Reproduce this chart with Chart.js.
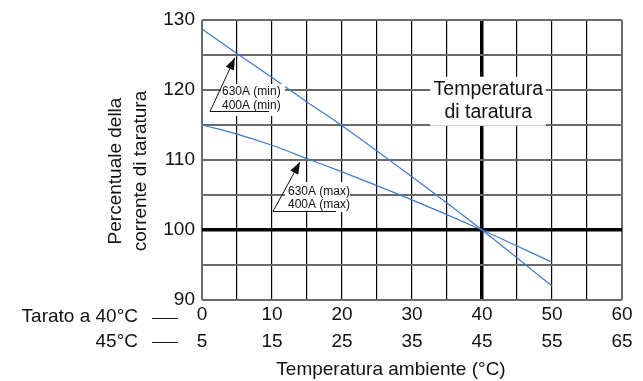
<!DOCTYPE html>
<html>
<head>
<meta charset="utf-8">
<script src="https://cdn.jsdelivr.net/npm/chart.js@4"></script>
<style>
  html, body { margin: 0; padding: 0; background: #fff; }
  #wrap { width: 643px; height: 381px; }
</style>
</head>
<body>
<div id="wrap"><canvas id="chart" width="643" height="381"></canvas></div>
<script>
'use strict';

// ambient temperature (rated at 40°C scale)
let tempsMin = [0, 5, 10, 15, 20, 30, 40, 50];
let valuesMin = [128.7, 125.2, 121.8, 118.3, 114.9, 107.6, 100, 92];
let tempsMax = [0, 5, 10, 15, 20, 30, 40, 50];
let valuesMax = [115, 113.7, 112.1, 110.2, 108.3, 104.3, 100, 95.4];

// tick labels
let xTopLabels = ['0', '10', '20', '30', '40', '50', '60'];
let xBottomLabels = ['5', '15', '25', '35', '45', '55', '65'];
let yLabels = ['90', '100', '110', '120', '130'];

let FONT = '"Liberation Sans", Arial, Helvetica, sans-serif';
let LINE_BLUE = '#3f7cc9';
let GRID_GRAY = '#6a6a6a';

function toPoints(xs, ys) {
  let pts = [];
  for (let i = 0; i < xs.length; i++) {
    pts.push({ x: xs[i], y: ys[i] });
  }
  return pts;
}

function arrow(ctx, x0, y0, x1, y1) {
  ctx.beginPath();
  ctx.moveTo(x0, y0);
  ctx.lineTo(x1, y1);
  ctx.stroke();
  let a = Math.atan2(y1 - y0, x1 - x0);
  let len = 12, w = 4.5;
  ctx.beginPath();
  ctx.moveTo(x1, y1);
  ctx.lineTo(x1 - len * Math.cos(a) + w * Math.sin(a), y1 - len * Math.sin(a) - w * Math.cos(a));
  ctx.lineTo(x1 - len * Math.cos(a) - w * Math.sin(a), y1 - len * Math.sin(a) + w * Math.cos(a));
  ctx.closePath();
  ctx.fill();
}

let notesPlugin = {
  id: 'notes',
  afterDatasetsDraw(chart) {
    let ctx = chart.ctx;
    let x = chart.scales.x, y = chart.scales.y;
    ctx.save();

    // white boxes behind labels
    ctx.fillStyle = '#fff';
    ctx.fillRect(x.getPixelForValue(32.6), y.getPixelForValue(121.9),
      x.getPixelForValue(49.1) - x.getPixelForValue(32.6), y.getPixelForValue(114.9) - y.getPixelForValue(121.9));
    ctx.fillRect(221, 84, 64, 32);
    ctx.fillRect(285, 182, 65, 30);

    ctx.fillStyle = '#111';
    ctx.textAlign = 'center';
    ctx.textBaseline = 'middle';
    ctx.font = '19.5px ' + FONT;
    let cx = x.getPixelForValue(40.9);
    ctx.fillText('Temperatura', cx, y.getPixelForValue(120));
    ctx.fillText('di taratura', cx, y.getPixelForValue(116.7));

    // curve callouts
    ctx.strokeStyle = '#111';
    ctx.lineWidth = 1;
    ctx.font = '12px ' + FONT;
    ctx.textAlign = 'left';
    ctx.fillText('630A (min)', 222, 92);
    ctx.fillText('400A (min)', 222, 106);
    ctx.beginPath();
    ctx.moveTo(210, 111.5);
    ctx.lineTo(269, 111.5);
    ctx.stroke();
    arrow(ctx, 210, 111.5, x.getPixelForValue(4.7), y.getPixelForValue(124.6));

    ctx.fillText('630A (max)', 288, 192);
    ctx.fillText('400A (max)', 288, 205);
    ctx.beginPath();
    ctx.moveTo(273, 211.5);
    ctx.lineTo(336, 211.5);
    ctx.stroke();
    arrow(ctx, 273, 211.5, x.getPixelForValue(14), y.getPixelForValue(109.7));

    ctx.restore();
  },
  afterDraw(chart) {
    let ctx = chart.ctx;
    ctx.save();
    ctx.fillStyle = '#111';
    ctx.font = '19px ' + FONT;
    ctx.textBaseline = 'middle';

    // y title
    ctx.textAlign = 'center';
    ctx.translate(116, 171);
    ctx.rotate(-Math.PI / 2);
    ctx.fillText('Percentuale della', 0, 0);
    ctx.fillText('corrente di taratura', 0, 25);
    ctx.setTransform(1, 0, 0, 1, 0, 0);

    // x title
    ctx.fillText('Temperatura ambiente (°C)', 391, 370);

    // row keys on the left
    ctx.textAlign = 'right';
    ctx.fillText('Tarato a 40°C', 138, 317);
    ctx.fillText('45°C', 138, 342);
    ctx.strokeStyle = '#111';
    ctx.lineWidth = 1;
    ctx.beginPath();
    ctx.moveTo(152, 318.5); ctx.lineTo(178, 318.5);
    ctx.moveTo(152, 342.5); ctx.lineTo(178, 342.5);
    ctx.stroke();
    ctx.restore();
  }
};

function renderChart() {
  let canvasElem = document.getElementById('chart');

  let chartObj = {
    type: 'scatter',
    data: {
      datasets: [{
        label: 'min',
        data: toPoints(tempsMin, valuesMin),
        showLine: true,
        borderColor: LINE_BLUE,
        borderWidth: 1.2,
        pointRadius: 0,
        cubicInterpolationMode: 'monotone',
      },
      {
        label: 'max',
        data: toPoints(tempsMax, valuesMax),
        showLine: true,
        borderColor: LINE_BLUE,
        borderWidth: 1.2,
        pointRadius: 0,
        cubicInterpolationMode: 'monotone',
      }]
    },
    options: {
      responsive: false,
      animation: false,
      layout: { padding: { left: 0, right: 21, top: 20, bottom: 0 } },
      plugins: {
        legend: { display: false },
        tooltip: { enabled: false },
      },
      scales: {
        x: {
          type: 'linear',
          min: 0,
          max: 60,
          afterFit: (scale) => { scale.height = 81; },
          border: { display: false },
          grid: {
            drawTicks: false,
            color: (c) => {
              let v = c.tick.value;
              return (v === 0 || v === 60) ? GRID_GRAY : '#000';
            },
            lineWidth: (c) => {
              let v = c.tick.value;
              if (v === 40) return 3.5;
              if (v === 0 || v === 60) return 2;
              return 1.2;
            },
          },
          ticks: {
            stepSize: 5,
            padding: 1,
            maxRotation: 0,
            autoSkip: false,
            color: '#111',
            font: { family: FONT, size: 19, lineHeight: 1.42 },
            callback: (v) => {
              if (v % 10 !== 0) return '';
              let i = v / 10;
              return [xTopLabels[i], xBottomLabels[i]];
            },
          },
        },
        y: {
          min: 90,
          max: 130,
          afterFit: (scale) => { scale.width = 202; },
          border: { display: false },
          grid: {
            drawTicks: false,
            color: (c) => c.tick.value === 100 ? '#000' : GRID_GRAY,
            lineWidth: (c) => c.tick.value === 100 ? 3.5 : 2,
          },
          ticks: {
            stepSize: 5,
            padding: 7,
            autoSkip: false,
            color: '#111',
            font: { family: FONT, size: 19 },
            callback: (v) => {
              if (v % 10 !== 0) return '';
              return yLabels[(v - 90) / 10];
            },
          },
        },
      },
    },
    plugins: [notesPlugin],
  };

  new Chart(canvasElem, chartObj);
}

renderChart();
</script>
</body>
</html>
